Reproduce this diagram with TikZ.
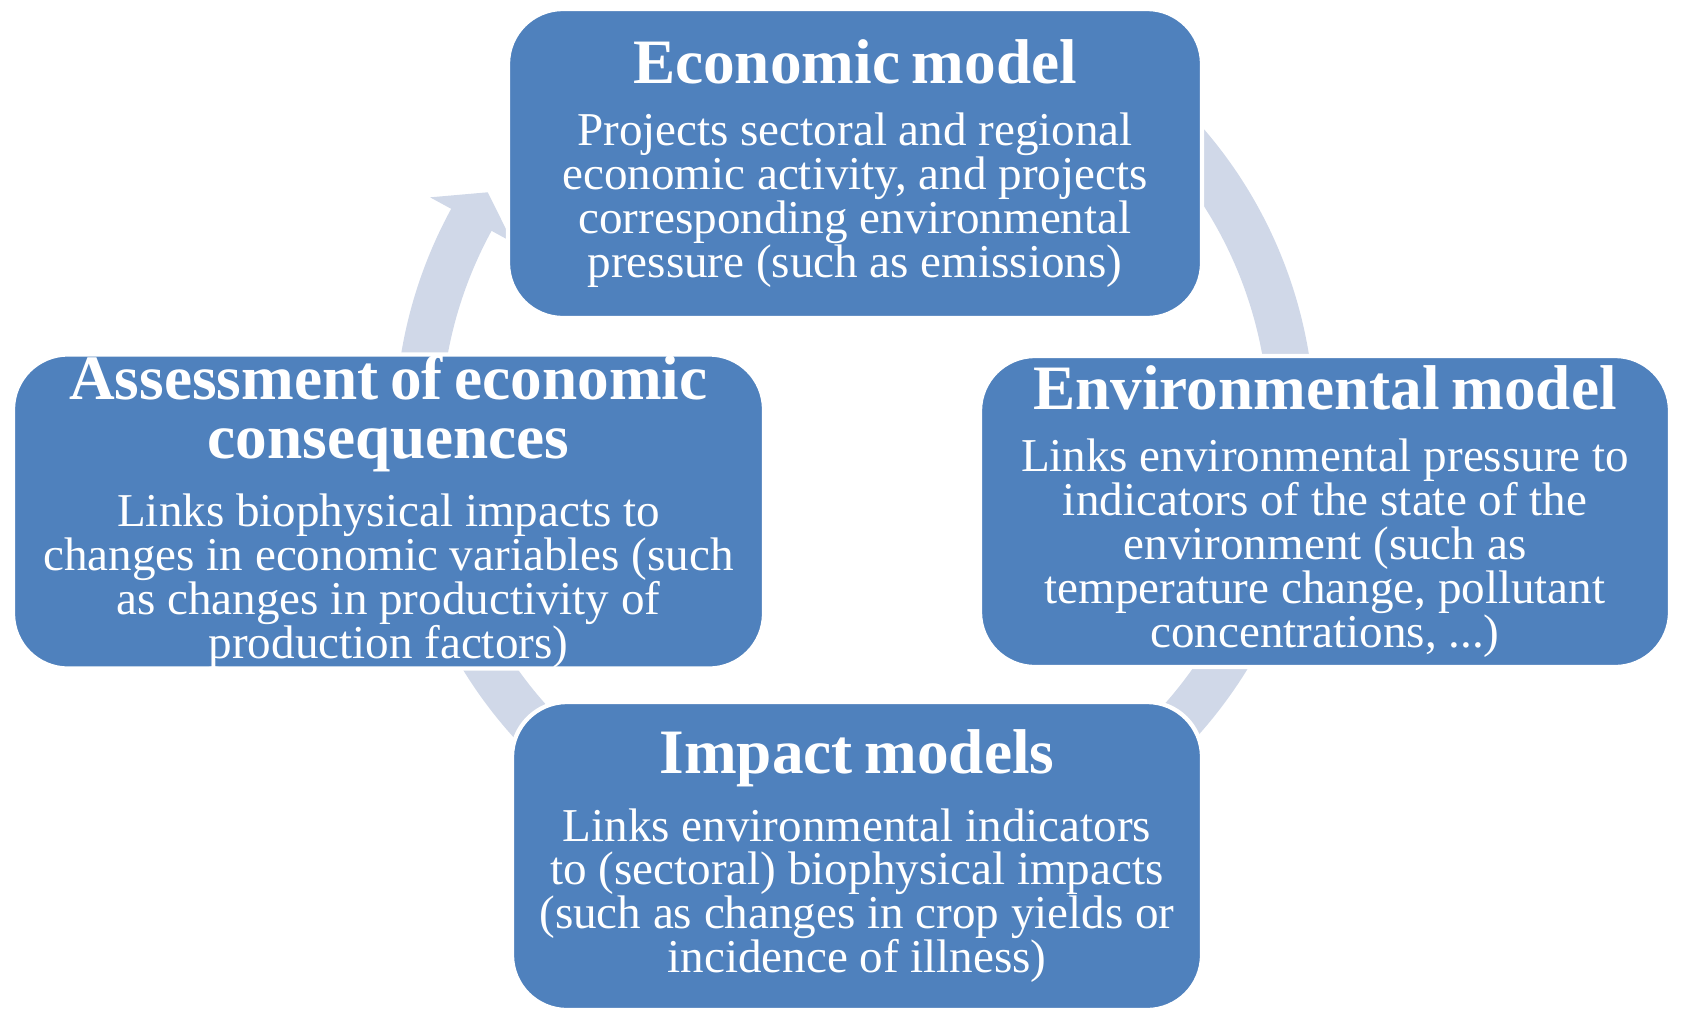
\documentclass[tikz,border=0pt]{standalone}
\usepackage{fontspec}
\setmainfont{Liberation Serif}
\usetikzlibrary{calc}

\definecolor{boxblue}{RGB}{79,129,189}
\definecolor{ringgray}{RGB}{208,216,232}
\lineskiplimit=-20pt

\newcommand{\boxtitle}[1]{{\fontsize{18}{17}\selectfont\bfseries #1\par}\vspace{5.2pt}}
\newcommand{\boxbody}[1]{{\fontsize{13.4}{12.5}\selectfont #1\par}}

\begin{document}
\begin{tikzpicture}[
	modelbox/.style={draw=white, line width=1.2pt, fill=boxblue, text=white, rounded corners=0.55cm, inner sep=0pt, align=center},
	ringarrow/.style={fill=ringgray}
]
	\useasboundingbox (0,0) rectangle (16.81,10.12);
	\coordinate (c) at (8.55,5.83);
	% circular arrow behind the boxes
	\fill[ringarrow] ($(c)+(50:4.6)$) arc[start angle=50, end angle=-208.6, radius=4.6]
		-- ($(c)+(151.4:4.84)$) -- ($(c)+(147.2:4.37)$) -- ($(c)+(151.4:3.9)$)
		-- ($(c)+(151.4:4.14)$) arc[start angle=-208.6, end angle=50, radius=4.14] -- cycle;
	% the four models
	\node[modelbox, minimum width=6.94cm, minimum height=3.09cm, text width=6.7cm] (econ) at (8.55,8.485) {%
		\boxtitle{Economic model}%
		\boxbody{Projects sectoral and regional\\ economic activity, and projects\\ corresponding environmental\\ pressure (such as emissions)}};
	\node[modelbox, minimum width=6.9cm, minimum height=3.11cm, text width=6.7cm] (envi) at (13.25,5.005) {%
		\boxtitle{Environmental model}%
		\boxbody{Links environmental pressure to\\ indicators of the state of the\\ environment (such as\\ temperature change, pollutant\\ concentrations, ...)}};
	\node[modelbox, minimum width=6.9cm, minimum height=3.08cm, text width=6.7cm] (impact) at (8.57,1.56) {%
		\boxtitle{Impact models}%
		\boxbody{Links environmental indicators\\ to (sectoral) biophysical impacts\\ (such as changes in crop yields or\\ incidence of illness)}};
	\node[modelbox, minimum width=7.51cm, minimum height=3.11cm, text width=7.3cm] (assess) at (3.885,5.005) {%
		\boxtitle{Assessment of economic\\ consequences}%
		\boxbody{Links biophysical impacts to\\ changes in economic variables (such\\ as changes in productivity of\\ production factors)}};
\end{tikzpicture}
\end{document}
